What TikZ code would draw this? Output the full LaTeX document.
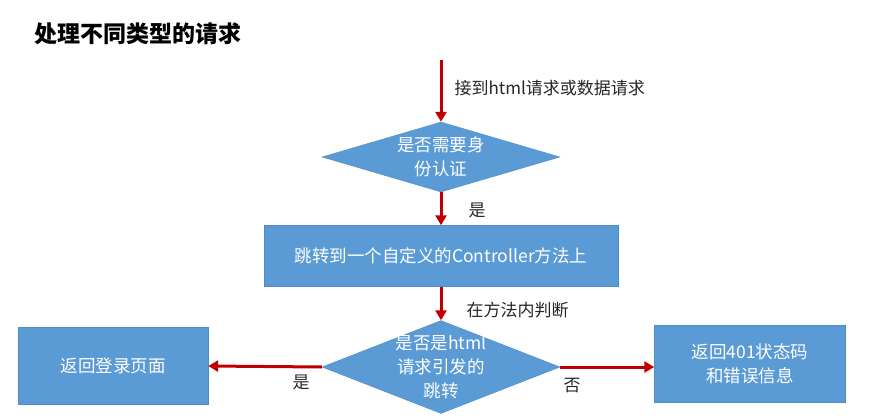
\documentclass[tikz,border=0pt]{standalone}
\usepackage{fontspec}
\setmainfont{Noto Sans CJK SC}
\usetikzlibrary{shapes.geometric}
\usetikzlibrary{arrows.meta}

\definecolor{boxblue}{HTML}{5B9BD5}
\definecolor{boxline}{HTML}{4F8CC6}
\definecolor{flowred}{HTML}{C00000}

\tikzset{
  box/.style={rectangle,fill=boxblue,draw=boxline,text=white,align=center,
    inner sep=0pt,font=\fontsize{17.5}{24}\selectfont},
  decide/.style={diamond,fill=boxblue,draw=boxline,text=white,align=center,
    inner sep=-8pt,font=\fontsize{17.5}{24}\selectfont},
  flow/.style={flowred,line width=3pt,-{Triangle[length=10pt,width=11pt]}},
  lbl/.style={text=black!85,font=\fontsize{17}{20}\selectfont}
}

\begin{document}
\begin{tikzpicture}[x=1pt,y=-1pt]
        \useasboundingbox (0,0) rectangle (870,420);
        \node[anchor=west,font=\fontsize{23}{26}\selectfont\bfseries] (title) at (31,34) {处理不同类型的请求};

        \coordinate (start) at (441,60);
        \node[decide,minimum width=238pt,minimum height=70pt,aspect=3.4] (auth) at (441,157) {是否需要身\\份认证};
        \node[box,minimum width=354pt,minimum height=61pt] (ctrl) at (441,256) {跳转到一个自定义的Controller方法上};
        \node[decide,minimum width=238pt,minimum height=93pt,aspect=2.56] (html) at (441,367) {是否是html\\请求引发的\\跳转};
        \node[box,minimum width=190pt,minimum height=77pt] (login) at (113,366) {返回登录页面};
        \node[box,minimum width=191pt,minimum height=77pt] (code) at (750,364) {返回401状态码\\和错误信息};

        \draw[flow] (start) -- (auth.north);
        \draw[flow] (auth.south) -- (ctrl.north);
        \draw[flow] (ctrl.south) -- (html.north);
        \draw[flow] (html.west) -- (login.east);
        \draw[flow] (html.east) -- (code.west |- html.east);

        \node[lbl,anchor=west] (l1) at (451,88) {接到html请求或数据请求};
        \node[lbl] (l2) at (477,210) {是};
        \node[lbl,anchor=west] (l3) at (463,310) {在方法内判断};
        \node[lbl] (l4) at (301,382) {是};
        \node[lbl] (l5) at (572,386) {否};
      \end{tikzpicture}
\end{document}
